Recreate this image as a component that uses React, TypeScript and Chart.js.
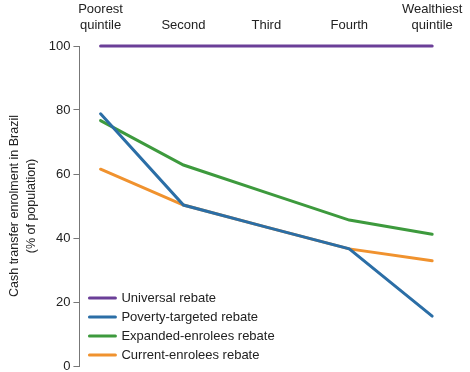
import React, { useEffect, useRef } from "react";
import { Chart, registerables } from "chart.js";

Chart.register(...registerables);

const categories: string[][] = [
  ["Poorest", "quintile"],
  ["Second"],
  ["Third"],
  ["Fourth"],
  ["Wealthiest", "quintile"],
];
const universal = [100, 100, 100, 100, 100];
const povertyTargeted = [78.8, 50.3, 43.4, 36.6, 15.6];
const expandedEnrolees = [76.7, 62.8, 54.2, 45.6, 41.2];
const currentEnrolees = [61.5, 50.3, 43.4, 36.6, 32.9];
const yTicks = [0, 20, 40, 60, 80, 100];

const FONT = "'Liberation Sans', Arial, Helvetica, sans-serif";

const legendPlugin = {
  id: "insideLegend",
  afterDraw(chart: any) {
    const ctx = chart.ctx;
    const area = chart.chartArea;
    const ds = chart.data.datasets;
    ctx.save();
    ctx.font = `13px ${FONT}`;
    ctx.textBaseline = "middle";
    ctx.textAlign = "left";
    const x0 = area.left + 10;
    const y0 = area.bottom - 68;
    ds.forEach((d: any, i: number) => {
      const y = y0 + i * 19;
      ctx.strokeStyle = d.borderColor;
      ctx.lineWidth = 3;
      ctx.lineCap = "round";
      ctx.beginPath();
      ctx.moveTo(x0, y);
      ctx.lineTo(x0 + 26, y);
      ctx.stroke();
      ctx.fillStyle = "#222";
      ctx.fillText(d.label, x0 + 32, y);
    });
    ctx.restore();
  },
};

export default function App() {
  const ref = useRef<HTMLCanvasElement | null>(null);
  useEffect(() => {
    if (!ref.current) return;
    const mk = (label: string, data: number[], color: string) => ({
      label,
      data: data.map((v, i) => ({ x: i, y: v })),
      borderColor: color,
      backgroundColor: color,
      borderWidth: 3,
      pointRadius: 0,
      tension: 0,
      clip: false as any,
      borderCapStyle: "round" as any,
    });
    const chart = new Chart(ref.current, {
      type: "line",
      data: {
        datasets: [
          mk("Universal rebate", universal, "#6b3f98"),
          mk("Poverty-targeted rebate", povertyTargeted, "#2b6ea6"),
          mk("Expanded-enrolees rebate", expandedEnrolees, "#3d9a3d"),
          mk("Current-enrolees rebate", currentEnrolees, "#f0922e"),
        ],
      },
      options: {
        animation: false,
        responsive: false,
        maintainAspectRatio: false,
        layout: { padding: { top: 0, bottom: 6, left: 6, right: 8 } },
        plugins: { legend: { display: false }, tooltip: { enabled: false } },
        scales: {
          x: {
            type: "linear",
            position: "top",
            min: -0.255,
            max: 4.36,
            afterBuildTicks: (s: any) => {
              s.ticks = categories.map((_, i) => ({ value: i }));
            },
            afterFit: (s: any) => {
              s.height = 46;
              s.paddingLeft = 0;
              s.paddingRight = 0;
            },
            grid: { display: false, drawTicks: false },
            border: { display: false },
            ticks: {
              padding: 13,
              color: "#222",
              font: { family: FONT, size: 13 },
              maxRotation: 0,
              autoSkip: false,
              callback: (v: any) => categories[Math.round(Number(v))] as any,
            },
          },
          y: {
            min: 0,
            max: 100,
            afterBuildTicks: (s: any) => {
              s.ticks = yTicks.map((v) => ({ value: v }));
            },
            afterFit: (s: any) => {
              s.paddingTop = 0;
              s.paddingBottom = 0;
            },
            grid: { display: true, drawOnChartArea: false, drawTicks: true, tickLength: 6, color: "#777" },
            border: { display: true, color: "#777", width: 1 },
            ticks: {
              color: "#222",
              padding: 3,
              font: { family: FONT, size: 13 },
            },
            title: {
              display: true,
              text: ["Cash transfer enrolment in Brazil", "(% of population)"],
              color: "#222",
              font: { family: FONT, size: 12.5, lineHeight: 1.35 },
              padding: { top: 0, bottom: 6 },
            },
          },
        },
      },
      plugins: [legendPlugin],
    });
    return () => chart.destroy();
  }, []);
  return (
    <div style={{ position: "absolute", left: 0, top: 0, width: 470, height: 372, background: "#fff" }}>
      <canvas ref={ref} width={470} height={372} style={{ width: 470, height: 372 }} />
    </div>
  );
}
